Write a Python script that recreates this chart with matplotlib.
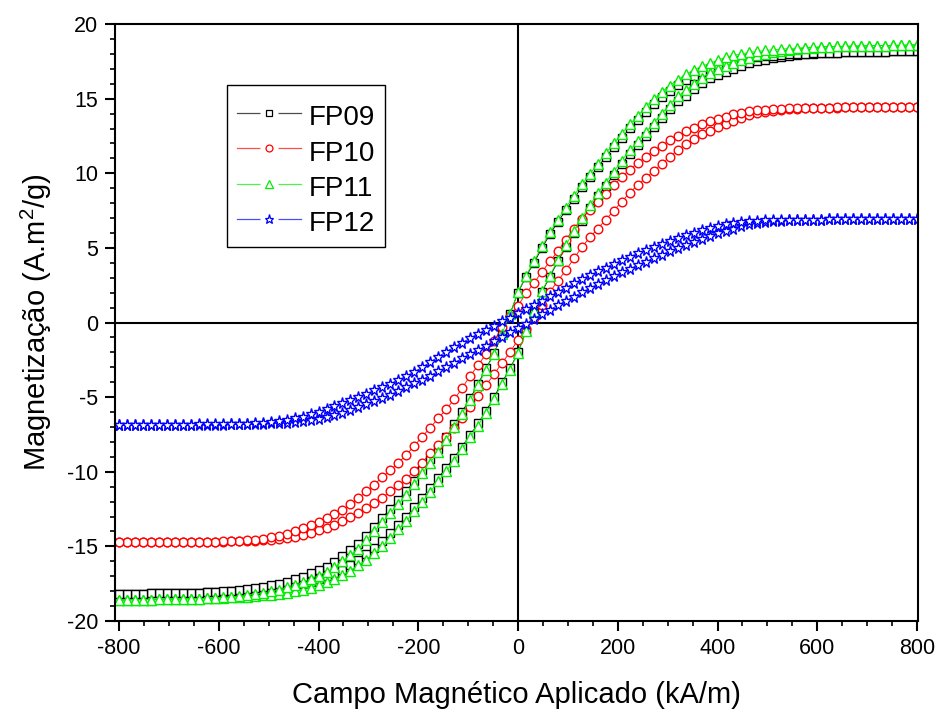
import numpy as np
import matplotlib
matplotlib.use("Agg")
import matplotlib.pyplot as plt
from matplotlib.lines import Line2D
from matplotlib.legend_handler import HandlerTuple
from matplotlib.ticker import MultipleLocator

# applied field (kA/m): one reading every 16 kA/m, -800 .. 800
field = np.arange(-800, 801, 16)

# magnetisation (A.m2/g), read off the loops
# *_up  : branch measured from -800 to +800
# *_down: branch measured from +800 to -800 (listed on the same field grid)
fp09_up = [
    -18.19, -18.18, -18.17, -18.16, -18.15, -18.14, -18.13, -18.12, -18.11, -18.10,
    -18.09, -18.08, -18.06, -18.04, -18.01, -17.99, -17.96, -17.92, -17.88, -17.83,
    -17.77, -17.70, -17.60, -17.51, -17.38, -17.18, -16.99, -16.78, -16.55, -16.25,
    -15.91, -15.53, -15.11, -14.67, -14.13, -13.55, -13.01, -12.37, -11.74, -11.10,
    -10.42, -9.73, -9.05, -8.31, -7.53, -6.75, -5.92, -4.99, -4.01, -3.08,
    -2.00,
    -0.59, 0.74, 2.05, 3.08, 4.11, 5.09, 5.97, 6.83, 7.70, 8.47,
    9.17, 9.88, 10.61, 11.30, 11.88, 12.47, 13.08, 13.69, 14.28, 14.82,
    15.21, 15.65, 16.04, 16.36, 16.60, 16.79, 17.02, 17.21, 17.36, 17.51,
    17.62, 17.72, 17.80, 17.87, 17.93, 17.98, 18.01, 18.04, 18.07, 18.09,
    18.10, 18.11, 18.12, 18.13, 18.14, 18.15, 18.16, 18.17, 18.18, 18.19,
]
fp09_down = [
    -18.19, -18.18, -18.17, -18.16, -18.15, -18.14, -18.13, -18.12, -18.11, -18.10,
    -18.09, -18.07, -18.04, -18.01, -17.98, -17.93, -17.87, -17.80, -17.72, -17.62,
    -17.51, -17.36, -17.21, -17.02, -16.79, -16.60, -16.36, -16.04, -15.65, -15.21,
    -14.82, -14.28, -13.69, -13.08, -12.47, -11.88, -11.30, -10.61, -9.88, -9.17,
    -8.47, -7.70, -6.83, -5.97, -5.09, -4.11, -3.08, -2.05, -0.74, 0.59,
    2.00,
    3.08, 4.01, 4.99, 5.92, 6.75, 7.53, 8.31, 9.05, 9.73, 10.42,
    11.10, 11.74, 12.37, 13.01, 13.55, 14.13, 14.67, 15.11, 15.53, 15.91,
    16.25, 16.55, 16.78, 16.99, 17.18, 17.38, 17.51, 17.60, 17.70, 17.77,
    17.83, 17.88, 17.92, 17.96, 17.99, 18.01, 18.04, 18.06, 18.08, 18.09,
    18.10, 18.11, 18.12, 18.13, 18.14, 18.15, 18.16, 18.17, 18.18, 18.19,
]

fp10_up = [
    -14.72, -14.72, -14.72, -14.72, -14.72, -14.71, -14.71, -14.71, -14.70, -14.70,
    -14.70, -14.69, -14.69, -14.68, -14.67, -14.66, -14.64, -14.62, -14.59, -14.56,
    -14.50, -14.44, -14.35, -14.23, -14.08, -13.89, -13.74, -13.55, -13.31, -13.06,
    -12.75, -12.44, -12.09, -11.73, -11.32, -10.91, -10.46, -9.95, -9.38, -8.77,
    -8.21, -7.70, -7.09, -6.43, -5.66, -4.90, -4.18, -3.47, -2.70, -1.99,
    -1.14,
    -0.45, 0.30, 1.20, 2.05, 2.80, 3.50, 4.30, 5.05, 5.70, 6.30,
    6.90, 7.50, 8.10, 8.70, 9.22, 9.70, 10.15, 10.65, 11.10, 11.55,
    11.95, 12.30, 12.60, 12.85, 13.08, 13.30, 13.50, 13.70, 13.90, 14.02,
    14.12, 14.20, 14.26, 14.30, 14.33, 14.36, 14.38, 14.39, 14.40, 14.40,
    14.41, 14.41, 14.42, 14.42, 14.42, 14.43, 14.43, 14.43, 14.43, 14.43,
]
fp10_down = [
    -14.72, -14.72, -14.72, -14.72, -14.72, -14.71, -14.71, -14.71, -14.70, -14.70,
    -14.69, -14.69, -14.68, -14.67, -14.65, -14.62, -14.59, -14.55, -14.48, -14.40,
    -14.30, -14.18, -13.97, -13.77, -13.57, -13.34, -13.11, -12.85, -12.55, -12.19,
    -11.78, -11.32, -10.86, -10.35, -9.89, -9.40, -8.87, -8.26, -7.65, -7.04,
    -6.43, -5.81, -5.15, -4.39, -3.57, -2.86, -2.09, -1.22, -0.31, 0.46,
    1.14,
    1.95, 2.65, 3.40, 4.10, 4.80, 5.55, 6.30, 6.95, 7.55, 8.05,
    8.60, 9.20, 9.75, 10.25, 10.70, 11.10, 11.50, 11.85, 12.20, 12.50,
    12.80, 13.05, 13.28, 13.47, 13.62, 13.80, 13.95, 14.07, 14.16, 14.22,
    14.27, 14.30, 14.33, 14.35, 14.37, 14.38, 14.39, 14.40, 14.40, 14.41,
    14.41, 14.41, 14.42, 14.42, 14.42, 14.43, 14.43, 14.43, 14.43, 14.43,
]

fp11_up = [
    -18.60, -18.59, -18.58, -18.57, -18.56, -18.55, -18.54, -18.53, -18.52, -18.51,
    -18.50, -18.49, -18.47, -18.45, -18.42, -18.39, -18.36, -18.32, -18.28, -18.23,
    -18.17, -18.10, -18.00, -17.90, -17.77, -17.57, -17.37, -17.16, -16.92, -16.62,
    -16.27, -15.88, -15.45, -15.00, -14.45, -13.85, -13.30, -12.65, -12.00, -11.35,
    -10.65, -9.95, -9.25, -8.50, -7.70, -6.90, -6.05, -5.10, -4.10, -3.15,
    -2.05,
    -0.60, 0.76, 2.10, 3.15, 4.20, 5.20, 6.10, 6.98, 7.87, 8.66,
    9.38, 10.10, 10.85, 11.55, 12.15, 12.75, 13.37, 14.00, 14.60, 15.15,
    15.55, 16.00, 16.40, 16.73, 16.97, 17.17, 17.40, 17.60, 17.75, 17.90,
    18.02, 18.12, 18.20, 18.27, 18.33, 18.38, 18.42, 18.45, 18.48, 18.50,
    18.51, 18.52, 18.53, 18.54, 18.55, 18.56, 18.57, 18.58, 18.59, 18.60,
]
fp11_down = [
    -18.60, -18.59, -18.58, -18.57, -18.56, -18.55, -18.54, -18.53, -18.52, -18.51,
    -18.50, -18.48, -18.45, -18.42, -18.38, -18.33, -18.27, -18.20, -18.12, -18.02,
    -17.90, -17.75, -17.60, -17.40, -17.17, -16.97, -16.73, -16.40, -16.00, -15.55,
    -15.15, -14.60, -14.00, -13.37, -12.75, -12.15, -11.55, -10.85, -10.10, -9.38,
    -8.66, -7.87, -6.98, -6.10, -5.20, -4.20, -3.15, -2.10, -0.76, 0.60,
    2.05,
    3.15, 4.10, 5.10, 6.05, 6.90, 7.70, 8.50, 9.25, 9.95, 10.65,
    11.35, 12.00, 12.65, 13.30, 13.85, 14.45, 15.00, 15.45, 15.88, 16.27,
    16.62, 16.92, 17.16, 17.37, 17.57, 17.77, 17.90, 18.00, 18.10, 18.17,
    18.23, 18.28, 18.32, 18.36, 18.39, 18.42, 18.45, 18.47, 18.49, 18.50,
    18.51, 18.52, 18.53, 18.54, 18.55, 18.56, 18.57, 18.58, 18.59, 18.60,
]

fp12_up = [
    -6.85, -6.85, -6.85, -6.85, -6.85, -6.85, -6.84, -6.84, -6.84, -6.84,
    -6.84, -6.84, -6.84, -6.84, -6.83, -6.82, -6.81, -6.80, -6.78, -6.76,
    -6.73, -6.70, -6.66, -6.60, -6.53, -6.44, -6.33, -6.20, -6.05, -5.88,
    -5.69, -5.49, -5.28, -5.06, -4.83, -4.60, -4.32, -4.07, -3.82, -3.55,
    -3.28, -3.00, -2.70, -2.40, -2.10, -1.85, -1.55, -1.25, -0.95, -0.62,
    -0.35,
    -0.08, 0.25, 0.55, 0.85, 1.17, 1.45, 1.74, 2.02, 2.30, 2.57,
    2.84, 3.10, 3.36, 3.60, 3.84, 4.08, 4.32, 4.55, 4.77, 4.98,
    5.20, 5.40, 5.60, 5.80, 5.98, 6.15, 6.30, 6.45, 6.57, 6.67,
    6.74, 6.79, 6.83, 6.86, 6.88, 6.89, 6.90, 6.90, 6.91, 6.91,
    6.91, 6.91, 6.91, 6.91, 6.91, 6.92, 6.92, 6.92, 6.92, 6.92,
]
fp12_down = [
    -6.85, -6.85, -6.85, -6.85, -6.85, -6.84, -6.84, -6.84, -6.84, -6.84,
    -6.83, -6.83, -6.83, -6.83, -6.82, -6.81, -6.79, -6.76, -6.72, -6.67,
    -6.60, -6.52, -6.42, -6.30, -6.15, -5.98, -5.80, -5.60, -5.40, -5.20,
    -4.98, -4.77, -4.55, -4.33, -4.10, -3.85, -3.60, -3.30, -3.00, -2.65,
    -2.30, -1.95, -1.65, -1.35, -1.05, -0.75, -0.47, -0.20, 0.07, 0.33,
    0.62,
    0.90, 1.16, 1.45, 1.75, 2.05, 2.34, 2.62, 2.90, 3.17, 3.42,
    3.68, 3.93, 4.17, 4.40, 4.63, 4.85, 5.07, 5.28, 5.48, 5.68,
    5.86, 6.03, 6.20, 6.35, 6.48, 6.60, 6.68, 6.74, 6.79, 6.82,
    6.85, 6.87, 6.88, 6.89, 6.90, 6.90, 6.90, 6.90, 6.91, 6.91,
    6.91, 6.91, 6.91, 6.91, 6.91, 6.92, 6.92, 6.92, 6.92, 6.92,
]

sample_names = ["FP09", "FP10", "FP11", "FP12"]
sample_colors = ["#000000", "#ff0000", "#00ee00", "#0000ff"]
sample_markers = ["s", "o", "^", "*"]
marker_sizes = [6.0, 6.2, 6.8, 8.2]


def main():
    plt.rcParams['font.family'] = ['Liberation Sans', 'DejaVu Sans']
    plt.rcParams['mathtext.fontset'] = 'custom'
    plt.rcParams['mathtext.rm'] = 'Liberation Sans'
    plt.rcParams['mathtext.it'] = 'Liberation Sans'
    plt.rcParams['axes.unicode_minus'] = False

    fig = plt.figure(figsize=(9.36, 7.09), dpi=100)
    ax = fig.add_axes([0.1229, 0.1241, 0.8579, 0.8420])

    # zero lines
    ax.axhline(0, color='black', lw=1.5, zorder=1)
    ax.axvline(0, color='black', lw=1.5, zorder=1)

    branches = [(fp09_up, fp09_down), (fp10_up, fp10_down),
                (fp11_up, fp11_down), (fp12_up, fp12_down)]
    handles = []
    for (up, down), col, mk, ms in zip(branches, sample_colors, sample_markers, marker_sizes):
        # full loop: up branch then down branch
        x = np.concatenate([field, field[::-1]])
        y = np.concatenate([up, down[::-1]])
        ax.plot(x, y, color=col, lw=0.6, marker=mk, ms=ms,
                mfc='white', mec=col, mew=1.0, zorder=2)
        # legend sample: line - gap - marker - gap - line
        ln = Line2D([], [], color=col, lw=0.9, alpha=0.7)
        gap = Line2D([], [], ls='none', marker='s', ms=13, mfc='white', mec='none')
        dot = Line2D([], [], ls='none', marker=mk, ms=ms * 0.8, mfc='white', mec=col, mew=0.9)
        handles.append((ln, gap, dot))

    ax.set_xlim(-808, 802)
    ax.set_ylim(-20, 20)
    ax.xaxis.set_major_locator(MultipleLocator(200))
    ax.xaxis.set_minor_locator(MultipleLocator(50))
    ax.yaxis.set_major_locator(MultipleLocator(5))
    ax.yaxis.set_minor_locator(MultipleLocator(1))
    ax.tick_params(which='major', direction='out', length=7, width=1.5,
                   labelsize=15.5, pad=5, top=False, right=False)
    ax.tick_params(which='minor', direction='out', length=3.5, width=1.2,
                   top=False, right=False)
    for sp in ax.spines.values():
        sp.set_linewidth(1.5)

    ax.set_xlabel('Campo Magnético Aplicado (kA/m)', fontsize=21, labelpad=16)
    ax.set_ylabel(r'Magnetização (A.m$^{\mathrm{2}}$/g)', fontsize=21, labelpad=9)

    # blank tiny title only pushes the rows down a little inside the frame
    leg = ax.legend(handles, sample_names,
                    handler_map={tuple: HandlerTuple(ndivide=1, pad=0)},
                    loc='upper left', bbox_to_anchor=(0.1395, 0.898),
                    borderaxespad=0, fontsize=20, fancybox=False,
                    edgecolor='black', framealpha=1, handlelength=2.3,
                    handleheight=1.3, handletextpad=0.3, labelspacing=0.18,
                    borderpad=0.35, title=' ', title_fontsize=1)
    leg.get_frame().set_linewidth(1.0)

    fig.savefig('out.png', dpi=100)
    plt.close(fig)


if __name__ == "__main__":
    main()
